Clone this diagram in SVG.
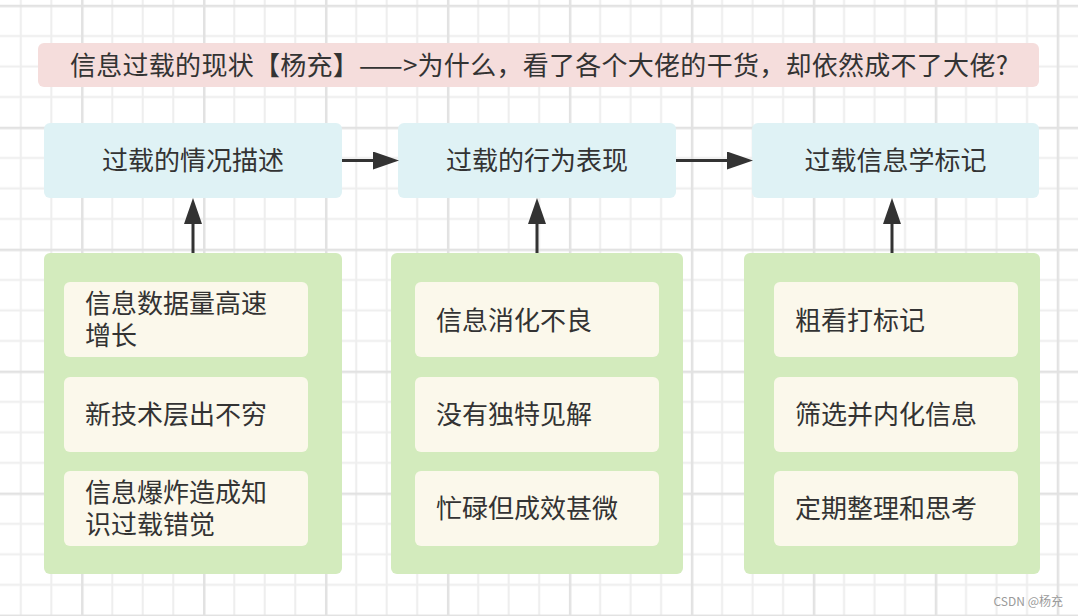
<svg xmlns="http://www.w3.org/2000/svg" width="1078" height="616" viewBox="0 0 1078 616">
  <style>
    .t { font-family: "Noto Sans CJK SC", "Noto Sans", sans-serif; font-size: 26px; fill: #333333; }
    .c { text-anchor: middle; dominant-baseline: central; }
    .l { dominant-baseline: central; }
    .title { fill: #f5dddc; }
    .head { fill: #dff2f5; }
    .group { fill: #d3ebbd; }
    .item { fill: #fbf8eb; }
    .conn { stroke: #333333; stroke-width: 3; fill: none; }
    .wm { font-family: "Noto Sans CJK SC", "Liberation Sans", sans-serif; font-size: 12px; fill: #9a9a9a; }
  </style>
  <defs>
    <pattern id="grid" patternUnits="userSpaceOnUse" x="81.05" y="4.75" width="121.96" height="121.96">
      <rect x="0" y="0" width="121.96" height="121.96" fill="#ffffff"/>
      <rect x="30.24" y="0" width="2" height="121.96" fill="#eeeeee"/>
      <rect x="60.73" y="0" width="2" height="121.96" fill="#eeeeee"/>
      <rect x="91.22" y="0" width="2" height="121.96" fill="#eeeeee"/>
      <rect x="0" y="30.24" width="121.96" height="2" fill="#eeeeee"/>
      <rect x="0" y="60.73" width="121.96" height="2" fill="#eeeeee"/>
      <rect x="0" y="91.22" width="121.96" height="2" fill="#eeeeee"/>
      <rect x="0" y="0" width="2.5" height="121.96" fill="#e2e2e2"/>
      <rect x="0" y="0" width="121.96" height="2.5" fill="#e2e2e2"/>
    </pattern>
    <marker id="arrow" markerUnits="userSpaceOnUse" markerWidth="26" markerHeight="18" refX="0" refY="9" orient="auto" viewBox="0 0 26 18">
      <path d="M0,0 L26,9 L0,18 Z" fill="#333333"/>
    </marker>
  </defs>

  <rect x="0" y="0" width="1078" height="616" fill="url(#grid)"/>

  <g id="title">
    <rect class="title" x="38" y="43" width="1001" height="44" rx="6"/>
    <text class="t c" x="539" y="63.5" textLength="938" lengthAdjust="spacing">信息过载的现状【杨充】——&gt;为什么，看了各个大佬的干货，却依然成不了大佬?</text>
  </g>

  <g id="head1">
    <rect class="head" x="44" y="123" width="298" height="75" rx="6"/>
    <text class="t c" x="193" y="158.5">过载的情况描述</text>
  </g>
  <g id="head2">
    <rect class="head" x="398" y="123" width="278" height="75" rx="6"/>
    <text class="t c" x="537" y="158.5">过载的行为表现</text>
  </g>
  <g id="head3">
    <rect class="head" x="752" y="123" width="287" height="75" rx="6"/>
    <text class="t c" x="895.5" y="158.5">过载信息学标记</text>
  </g>

  <g id="group1">
    <rect class="group" x="44" y="253" width="298" height="321" rx="6"/>
    <g id="g1i1">
      <rect class="item" x="64" y="282" width="244" height="75" rx="6"/>
      <text class="t l" x="85" y="301"><tspan x="85" y="301">信息数据量高速</tspan><tspan x="85" y="333">增长</tspan></text>
    </g>
    <g id="g1i2">
      <rect class="item" x="64" y="377" width="244" height="75" rx="6"/>
      <text class="t l" x="85" y="412.5">新技术层出不穷</text>
    </g>
    <g id="g1i3">
      <rect class="item" x="64" y="471" width="244" height="75" rx="6"/>
      <text class="t l" x="85" y="490"><tspan x="85" y="490">信息爆炸造成知</tspan><tspan x="85" y="522">识过载错觉</tspan></text>
    </g>
  </g>

  <g id="group2">
    <rect class="group" x="391" y="253" width="292" height="321" rx="6"/>
    <g id="g2i1">
      <rect class="item" x="415" y="282" width="244" height="75" rx="6"/>
      <text class="t l" x="436" y="318">信息消化不良</text>
    </g>
    <g id="g2i2">
      <rect class="item" x="415" y="377" width="244" height="75" rx="6"/>
      <text class="t l" x="436" y="412.5">没有独特见解</text>
    </g>
    <g id="g2i3">
      <rect class="item" x="415" y="471" width="244" height="75" rx="6"/>
      <text class="t l" x="436" y="506.5">忙碌但成效甚微</text>
    </g>
  </g>

  <g id="group3">
    <rect class="group" x="744" y="253" width="296" height="321" rx="6"/>
    <g id="g3i1">
      <rect class="item" x="774" y="282" width="244" height="75" rx="6"/>
      <text class="t l" x="795" y="318">粗看打标记</text>
    </g>
    <g id="g3i2">
      <rect class="item" x="774" y="377" width="244" height="75" rx="6"/>
      <text class="t l" x="795" y="412.5">筛选并内化信息</text>
    </g>
    <g id="g3i3">
      <rect class="item" x="774" y="471" width="244" height="75" rx="6"/>
      <text class="t l" x="795" y="506.5">定期整理和思考</text>
    </g>
  </g>

  <g id="connectors">
    <line class="conn" x1="342" y1="160.5" x2="373" y2="160.5" marker-end="url(#arrow)"/>
    <line class="conn" x1="676" y1="160.5" x2="727" y2="160.5" marker-end="url(#arrow)"/>
    <line class="conn" x1="193" y1="253" x2="193" y2="224" marker-end="url(#arrow)"/>
    <line class="conn" x1="537" y1="253" x2="537" y2="224" marker-end="url(#arrow)"/>
    <line class="conn" x1="892" y1="253" x2="892" y2="224" marker-end="url(#arrow)"/>
  </g>

  <text class="wm" x="1063" y="606" text-anchor="end">CSDN @杨充</text>
</svg>
